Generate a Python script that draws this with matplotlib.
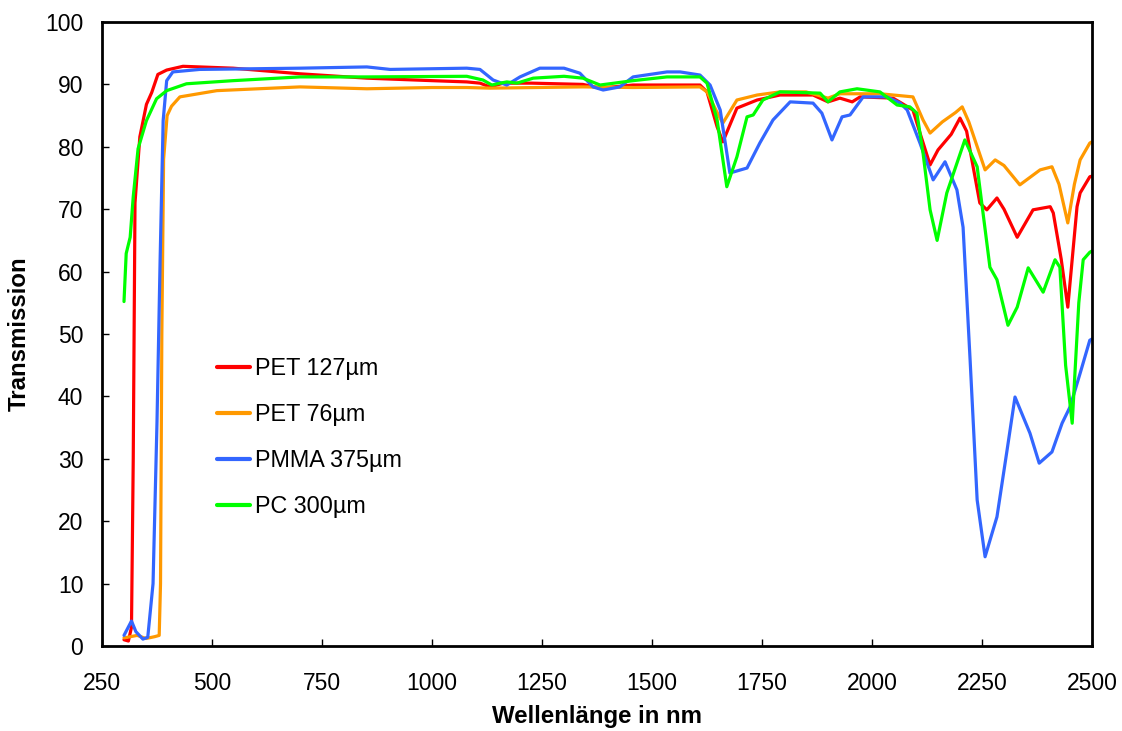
import matplotlib
matplotlib.use("Agg")
import matplotlib.pyplot as plt

plt.rcParams['font.family'] = ['Liberation Sans', 'DejaVu Sans']

# ---------------- data ----------------
pet127_x = [300, 310, 317, 321, 325, 336, 351, 363, 377, 397, 434, 548, 700, 852, 1000, 1079, 1109, 1132,
            1162, 1227, 1343, 1382, 1457, 1609, 1625, 1648, 1661, 1693, 1739, 1791, 1866, 1900, 1927, 1955,
            1973, 2048, 2093, 2110, 2132, 2150, 2180, 2200, 2215, 2245, 2261, 2284, 2300, 2330, 2366, 2405,
            2412, 2430, 2445, 2466, 2473, 2495, 2500]
pet127_y = [1.0, 0.8, 3, 30, 71, 81.6, 86.8, 88.7, 91.6, 92.3, 92.9, 92.6, 91.7, 91.0, 90.6, 90.4, 90.2, 89.6,
            90.2, 90.2, 90.0, 89.4, 89.9, 89.9, 88.8, 83.2, 80.8, 86.2, 87.5, 88.3, 88.3, 87.2, 87.8, 87.2,
            88.0, 87.8, 85.9, 82, 77.1, 79.5, 82, 84.6, 82.5, 71, 69.9, 71.8, 70, 65.5, 69.9, 70.4,
            69.4, 62, 54.3, 70.4, 72.6, 75.2, 75.3]

pet76_x = [300, 330, 350, 370, 380, 383, 386, 390, 398, 408, 427, 511, 700, 852, 1000, 1079, 1132, 1343,
           1457, 1609, 1625, 1648, 1661, 1693, 1739, 1791, 1850, 1900, 1927, 2018, 2093, 2116, 2132, 2160,
           2190, 2205, 2220, 2257, 2280, 2300, 2336, 2382, 2409, 2425, 2445, 2460, 2473, 2495, 2500]
pet76_y = [1.3, 1.7, 1.2, 1.5, 1.7, 10, 50, 78, 85, 86.5, 88.0, 89.0, 89.6, 89.3, 89.5, 89.5, 89.4, 89.6,
           89.5, 89.6, 88.8, 85.5, 83.8, 87.5, 88.3, 88.8, 88.8, 87.8, 88.5, 88.5, 88.0, 84.3, 82.2, 84,
           85.5, 86.4, 84, 76.3, 77.9, 77, 73.9, 76.3, 76.8, 74, 67.8, 74, 77.9, 80.6, 80.8]

pmma_x = [300, 317, 327, 343, 354, 366, 375, 382, 389, 397, 411, 472, 700, 852, 905, 1079, 1109, 1139, 1170,
          1200, 1245, 1300, 1336, 1366, 1389, 1427, 1457, 1534, 1564, 1609, 1632, 1655, 1677, 1716, 1745,
          1775, 1814, 1866, 1886, 1909, 1932, 1950, 1980, 2034, 2064, 2080, 2109, 2139, 2166, 2193, 2207,
          2223, 2239, 2257, 2273, 2284, 2307, 2325, 2359, 2380, 2409, 2432, 2450, 2473, 2495, 2500]
pmma_y = [1.7, 4.0, 2.3, 1.1, 1.4, 10, 35.9, 61.6, 84.2, 90.6, 92.0, 92.4, 92.6, 92.8, 92.4, 92.6, 92.4, 90.7,
          89.9, 91.2, 92.6, 92.6, 91.8, 89.6, 89.1, 89.6, 91.2, 92.0, 92.0, 91.5, 89.9, 85.9, 75.8, 76.6,
          80.6, 84.3, 87.2, 87.0, 85.4, 81.1, 84.8, 85.1, 88.0, 88.0, 87.0, 85.9, 80.6, 74.7, 77.6, 73.1,
          67.1, 45.8, 23.4, 14.3, 18.1, 20.7, 31.4, 39.9, 34.1, 29.3, 31.1, 35.7, 38.3, 43.7, 49.0, 49.2]

pc_x = [300, 305, 314, 321, 332, 351, 374, 397, 442, 548, 700, 852, 1079, 1116, 1136, 1155, 1170, 1193,
        1230, 1300, 1343, 1382, 1457, 1534, 1609, 1625, 1648, 1670, 1693, 1716, 1730, 1752, 1791, 1882,
        1900, 1927, 1966, 2018, 2057, 2086, 2102, 2116, 2132, 2148, 2170, 2211, 2239, 2268, 2284, 2309,
        2330, 2355, 2389, 2416, 2427, 2440, 2455, 2470, 2480, 2495, 2500]
pc_y = [55.2, 62.9, 65.5, 72, 79.7, 84.2, 87.7, 89.0, 90.1, 90.6, 91.2, 91.2, 91.3, 90.7, 89.9, 90.2, 90.4,
        90.2, 91.0, 91.3, 91.0, 89.9, 90.6, 91.2, 91.2, 90.2, 84.3, 73.6, 78.4, 84.8, 85.1, 87.5, 88.8,
        88.6, 87.2, 88.8, 89.3, 88.8, 86.7, 86.4, 85.4, 79, 69.9, 65.0, 72.6, 81.1, 76.8, 60.7, 58.7,
        51.4, 54.3, 60.6, 56.7, 61.9, 60.7, 45, 35.7, 55, 61.9, 63.1, 63.3]

series_labels = ["PET 127µm", "PET 76µm", "PMMA 375µm", "PC 300µm"]
series_colors = ["#FF0000", "#FF9900", "#3366FF", "#00FF00"]
x_ticks = [250, 500, 750, 1000, 1250, 1500, 1750, 2000, 2250, 2500]
y_ticks = [0, 10, 20, 30, 40, 50, 60, 70, 80, 90, 100]

# ---------------- figure ----------------
fig = plt.figure(figsize=(11.22, 7.31), dpi=100)
ax = fig.add_axes([102 / 1122, 85 / 731, 990 / 1122, 624 / 731])

data = [(pet127_x, pet127_y), (pet76_x, pet76_y), (pmma_x, pmma_y), (pc_x, pc_y)]
for (xs, ys), lab, col in zip(data, series_labels, series_colors):
    ax.plot(xs, ys, color=col, lw=2.3, label=lab, solid_joinstyle='round', solid_capstyle='round')

ax.set_xlim(250, 2500)
ax.set_ylim(0, 100)
ax.set_xticks(x_ticks)
ax.set_yticks(y_ticks)
ax.tick_params(direction='in', length=5, width=1, labelsize=16.5)
ax.tick_params(axis='x', pad=19)
ax.tick_params(axis='y', pad=13.5)
for sp in ax.spines.values():
    sp.set_linewidth(2)

ax.set_xlabel("Wellenlänge in nm", fontsize=17.3, fontweight='bold', labelpad=7)
ax.set_ylabel("Transmission", fontsize=17.3, fontweight='bold', labelpad=10)

leg = ax.legend(loc='upper left', bbox_to_anchor=(106 / 990, (646 - 348) / 624), frameon=False,
                fontsize=16.8, handlelength=1.4, handletextpad=0.22, labelspacing=0.98, borderaxespad=0)
for line in leg.get_lines():
    line.set_linewidth(3)

fig.savefig("out.png", dpi=100)
